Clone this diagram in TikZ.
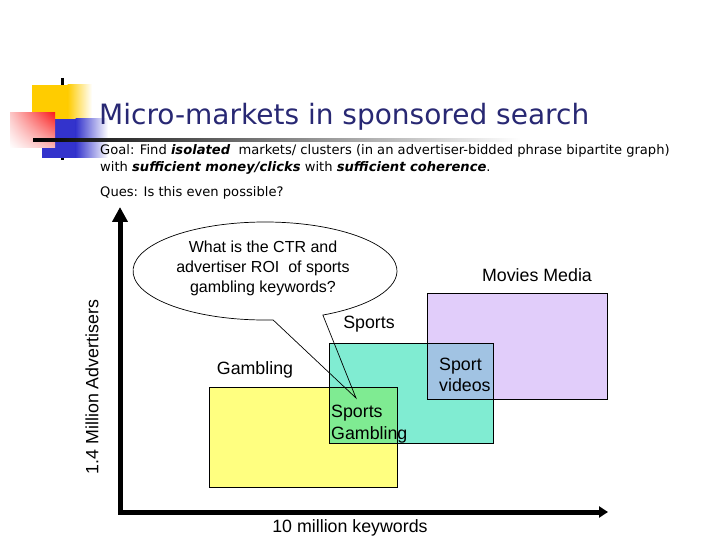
\documentclass[tikz,border=0pt]{standalone}
\usepackage{fontspec}
\setmainfont{Liberation Sans}
\newfontfamily\titlefont{DejaVu Sans}
\newfontfamily\goalfont{DejaVu Sans}
\usetikzlibrary{arrows.meta,shadings}
\definecolor{logoyellow}{RGB}{255,204,0}
\definecolor{logoblue}{RGB}{51,51,204}
\definecolor{logored}{RGB}{250,30,30}
\definecolor{titlecol}{RGB}{40,40,115}
\definecolor{gambfill}{RGB}{255,255,128}
\definecolor{sportfill}{RGB}{1,217,165}
\definecolor{moviefill}{RGB}{195,155,245}
\tikzset{
  lbl/.style={font=\fontsize{17.8}{21}\selectfont, inner sep=0pt},
  goaltxt/.style={font=\goalfont\fontsize{13.1}{15}\selectfont, anchor=west, inner sep=0pt},
  region/.style={anchor=north west, inner sep=0pt, outer sep=0pt},
  axisline/.style={line width=5pt, line join=miter},
}
\begin{document}
\begin{tikzpicture}[x=1pt, y=-1pt]
\useasboundingbox (0,0) rectangle (720,540);
% logo
\draw[line width=3pt] (62,78) -- (62,160);
\fill[logoyellow] (32,85) rectangle (68,140);
\shade[left color=logoyellow, right color=white] (67.5,85) rectangle (92,140);
\fill[logoblue] (42,119) rectangle (76,158);
\shade[left color=logoblue, right color=white] (75.5,119) rectangle (108,158);
\shade[upper right=logored, upper left={rgb,255:red,252;green,200;blue,200},
       lower right={rgb,255:red,250;green,185;blue,185}, lower left=white]
  (10,113) rectangle (55,148);
\shade[left color=black, right color=white] (33,139) rectangle (520,142);
% title
\node[anchor=west, inner sep=0pt, text=titlecol, font=\titlefont\fontsize{28}{32}\selectfont] (title) at (99,117) {Micro-markets in sponsored search};
% goal text
\node[goaltxt] (goal1) at (100,151) {Goal: Find \textbf{\textit{isolated}}\ \ markets/ clusters (in an advertiser-bidded phrase bipartite graph)};
\node[goaltxt] (goal2) at (100,168) {with \textbf{\textit{sufficient money/clicks}} with \textbf{\textit{sufficient coherence}}.};
\node[goaltxt] (ques) at (100,193) {Ques: Is this even possible?};
% regions
\node[region, fill=gambfill, minimum width=188pt, minimum height=100pt] (gamb) at (209,387) {};
\node[region, fill=sportfill, fill opacity=0.5, minimum width=164pt, minimum height=100pt] (sport) at (329,343) {};
\node[region, fill=moviefill, fill opacity=0.5, minimum width=180pt, minimum height=106pt] (movie) at (427,293) {};
\draw[line width=0.9pt] (gamb.north west) rectangle (gamb.south east);
\draw[line width=0.9pt] (sport.north west) rectangle (sport.south east);
\draw[line width=0.9pt] (movie.north west) rectangle (movie.south east);
% labels
\node[lbl] (lmovie) at (537,275) {Movies Media};
\node[lbl] (lsport) at (369,324) {Sports};
\node[lbl] (lgamb) at (255,370) {Gambling};
\node[lbl, anchor=west, align=left] (lvideo) at (439,374.5) {Sport\\videos};
\node[lbl, anchor=west, align=left, font=\fontsize{17.8}{22}\selectfont] (lsg) at (331,424) {Sports\\Gambling};
% axes
\coordinate (ytop) at (120,207);
\coordinate (origin) at (120,512);
\coordinate (xend) at (608,512);
\draw[axisline, {Triangle[length=15pt,width=15pt]}-{Triangle[length=9pt,width=11pt]}] (ytop) -- (origin) -- (xend);
\node[lbl, rotate=90] (ylab) at (92,387) {1.4 Million Advertisers};
\node[lbl] (xlab) at (350,528) {10 million keywords};
% speech bubble
\coordinate (tip) at (356,398);
\draw[line width=0.7pt] ([shift={(265,271)}]86.5:132 and 49) arc[start angle=86.5, end angle=424, x radius=132, y radius=49] -- (tip) -- cycle;
\node[font=\fontsize{16}{20}\selectfont, align=center, inner sep=0pt] (bubble) at (263,268) {What is the CTR and\\advertiser ROI\ \ of sports\\gambling keywords?};
\end{tikzpicture}
\end{document}
